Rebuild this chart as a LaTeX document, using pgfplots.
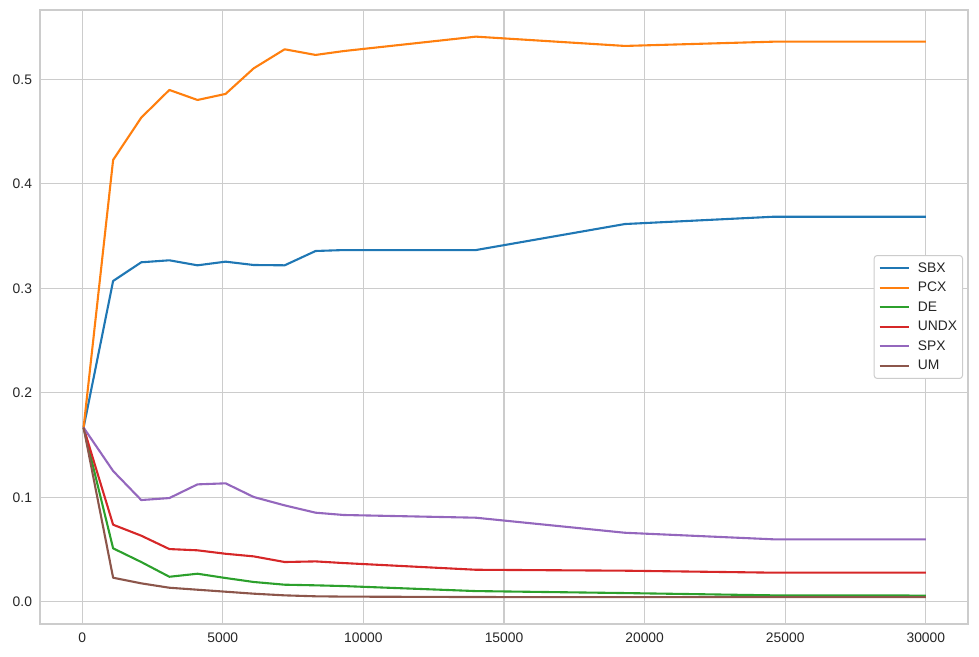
\documentclass[border=0pt]{standalone}
\usepackage{pgfplots}
\usepackage{pgfplotstable}
\pgfplotsset{compat=1.18}
\usepackage{fontspec}
\setmainfont{Liberation Sans}
\definecolor{tabblue}{HTML}{1F77B4}
\definecolor{taborange}{HTML}{FF7F0E}
\definecolor{tabgreen}{HTML}{2CA02C}
\definecolor{tabred}{HTML}{D62728}
\definecolor{tabpurple}{HTML}{9467BD}
\definecolor{tabbrown}{HTML}{8C564B}
\definecolor{gridgray}{HTML}{CCCCCC}
\definecolor{textgray}{HTML}{262626}
\pgfplotstableread{
x     SBX    PCX    DE     UNDX   SPX    UM
50    0.1667 0.1667 0.1667 0.1667 0.1667 0.1667
1100  0.3070 0.4228 0.0512 0.0738 0.1252 0.0231
2100  0.3249 0.4633 0.0381 0.0633 0.0974 0.0177
3100  0.3268 0.4898 0.0240 0.0505 0.0993 0.0135
4100  0.3220 0.4802 0.0269 0.0493 0.1124 0.0116
5100  0.3255 0.4860 0.0228 0.0460 0.1134 0.0097
6100  0.3223 0.5105 0.0190 0.0435 0.1003 0.0078
7200  0.3220 0.5287 0.0164 0.0381 0.0923 0.0062
8300  0.3357 0.5233 0.0158 0.0387 0.0853 0.0053
9300  0.3366 0.5270 0.0151 0.0371 0.0831 0.0050
14000 0.3366 0.5408 0.0103 0.0307 0.0805 0.0046
19300 0.3615 0.5319 0.0084 0.0298 0.0661 0.0045
24600 0.3685 0.5360 0.0062 0.0279 0.0598 0.0045
30000 0.3685 0.5360 0.0060 0.0279 0.0598 0.0045
}\data
\begin{document}
\begin{tikzpicture}
\begin{axis}[
  width=928bp, height=614bp, scale only axis,
  xmin=-1500, xmax=31500, ymin=-0.0212, ymax=0.5663,
  xtick={0,5000,10000,15000,20000,25000,30000},
  ytick={0,0.1,0.2,0.3,0.4,0.5},
  grid=major,
  major grid style={draw=gridgray, line width=1.1bp},
  axis line style={draw=gridgray, line width=1.25bp},
  major tick length=0pt,
  tick style={draw=none},
  tick label style={font=\fontsize{13.9}{16}\selectfont, text=textgray},
  /pgf/number format/assume math mode=true,
  scaled ticks=false,
  xticklabel style={/pgf/number format/1000 sep={}, yshift=-5bp},
  yticklabel style={/pgf/number format/fixed, /pgf/number format/fixed zerofill, /pgf/number format/precision=1, xshift=-4.5bp},
  legend style={at={(1,0.5)}, anchor=east, xshift=-5bp, draw=gridgray, line width=1bp,
    rounded corners=3bp, fill=white, font=\fontsize{13.9}{16}\selectfont, text=textgray,
    row sep=4.5bp, inner xsep=3.5bp, inner ysep=5bp},
  legend cell align=left,
  legend image code/.code={\draw[#1, line width=2.1bp] (0bp,0bp) -- (29bp,0bp); \path (-1bp,0bp) (35bp,0bp);},
  every axis plot/.append style={line width=2.1bp, line join=round},
]
\addplot[tabblue, no marks] table[x=x, y=SBX] {\data};
\addplot[taborange, no marks] table[x=x, y=PCX] {\data};
\addplot[tabgreen, no marks] table[x=x, y=DE] {\data};
\addplot[tabred, no marks] table[x=x, y=UNDX] {\data};
\addplot[tabpurple, no marks] table[x=x, y=SPX] {\data};
\addplot[tabbrown, no marks] table[x=x, y=UM] {\data};
\legend{SBX, PCX, DE, UNDX, SPX, UM}
\end{axis}
\path ([xshift=-40bp,yshift=-33bp]current axis.south west) rectangle ([xshift=11bp,yshift=10bp]current axis.north east);
\end{tikzpicture}
\end{document}
